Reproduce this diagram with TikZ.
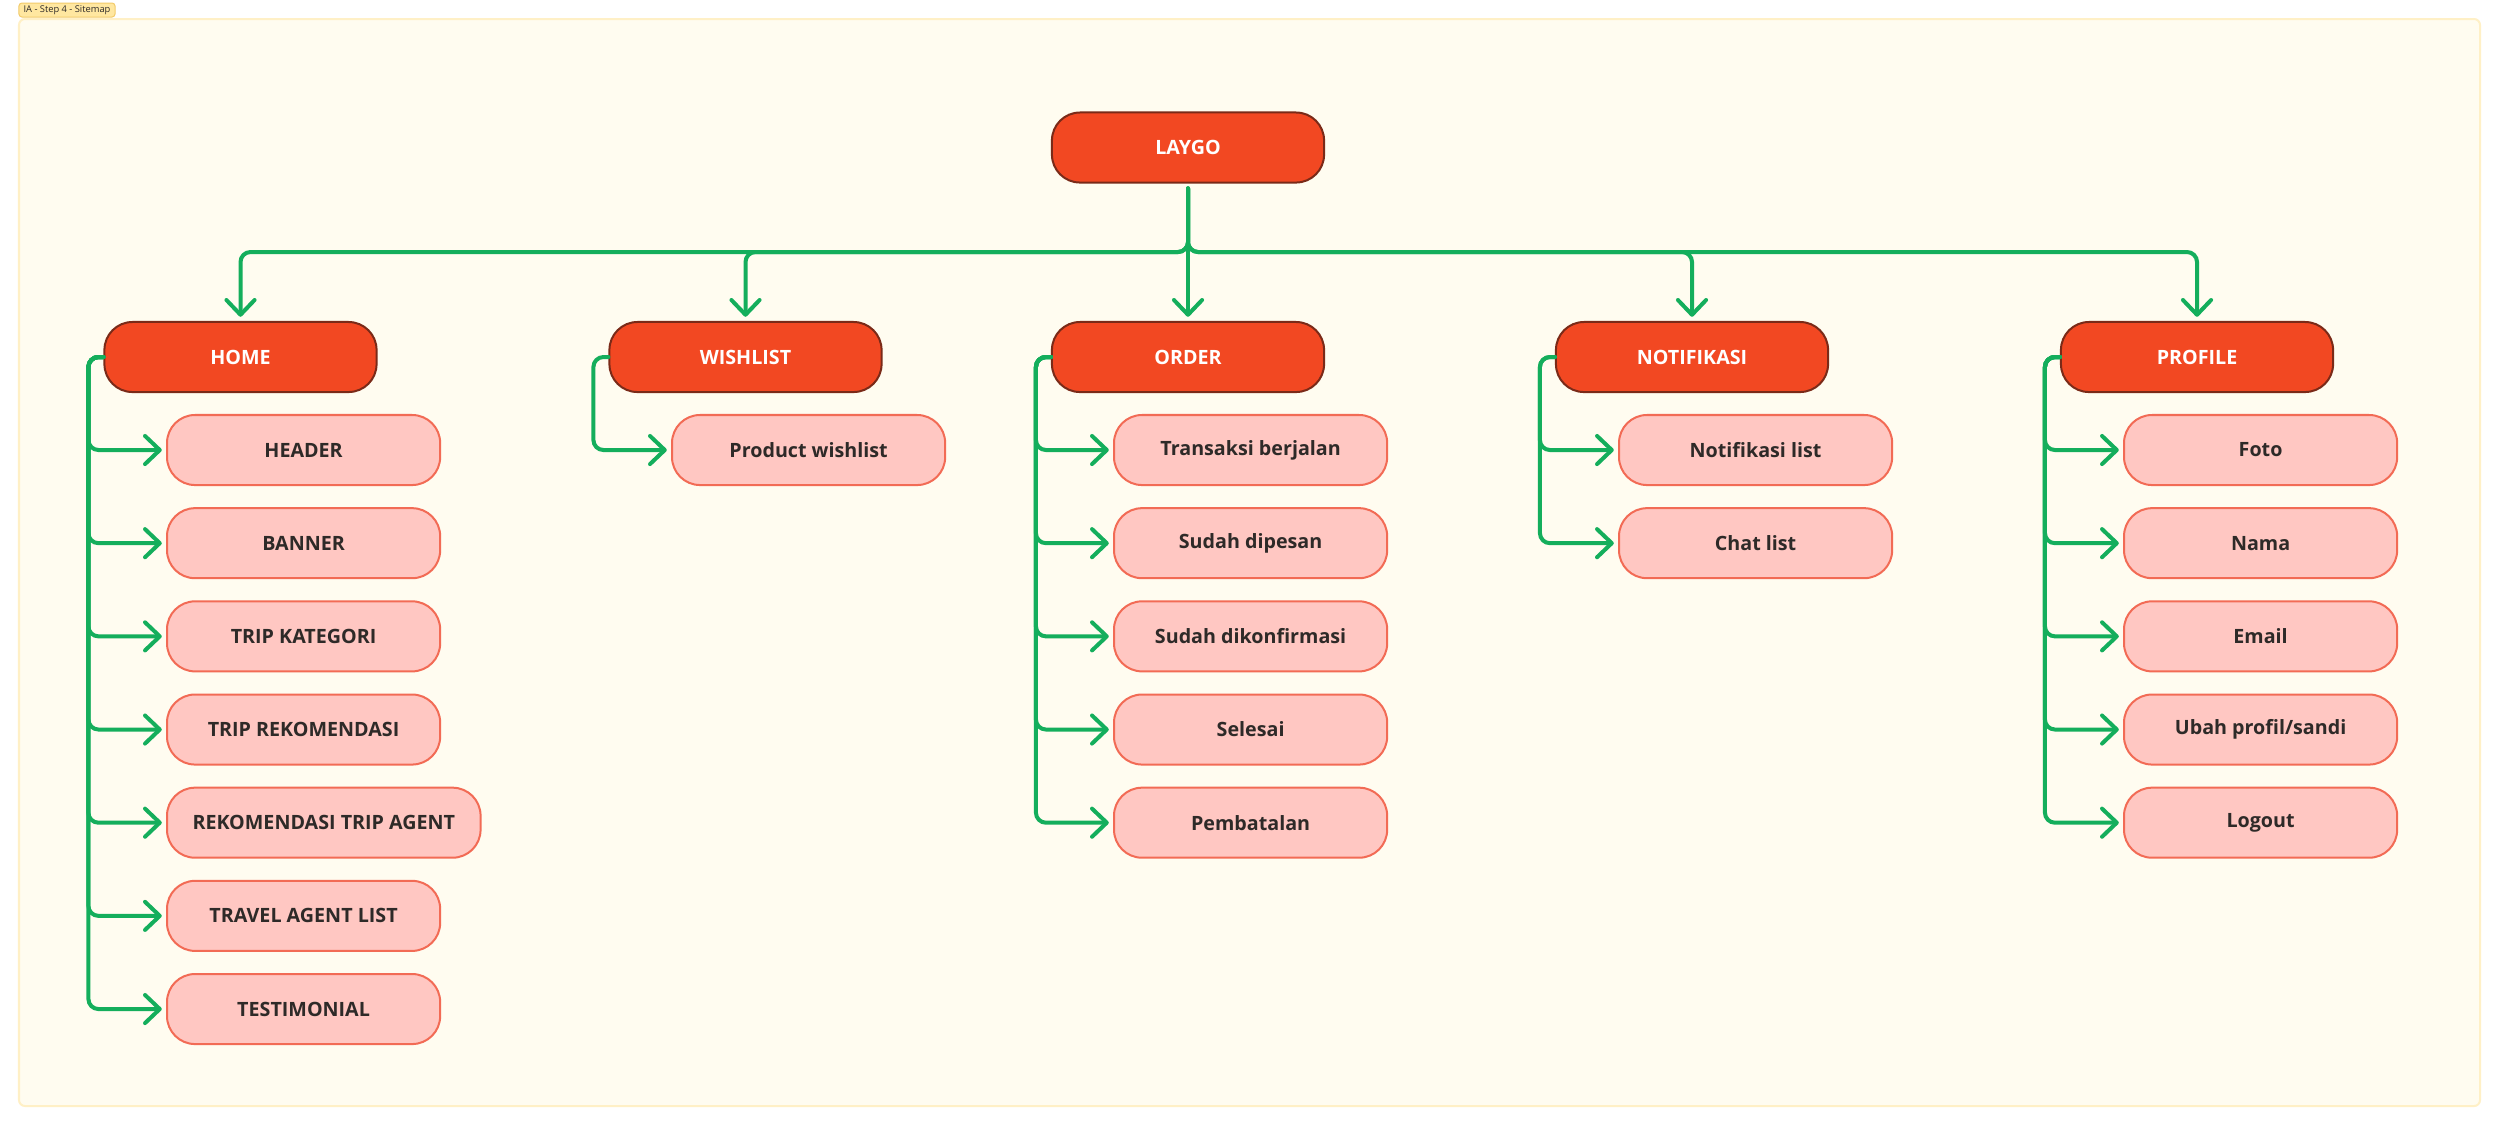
\documentclass[tikz,border=0pt]{standalone}
\usepackage{fontspec}
\setmainfont{Open Sans}
\usetikzlibrary{arrows.meta}

\definecolor{boardfill}{HTML}{FFFCF0}
\definecolor{boardline}{HTML}{FFF0C6}
\definecolor{tagfill}{HTML}{FFE7A0}
\definecolor{tagline}{HTML}{F2CB6A}
\definecolor{menufill}{HTML}{F24822}
\definecolor{menuline}{HTML}{7A2A18}
\definecolor{itemfill}{HTML}{FFC7C2}
\definecolor{itemline}{HTML}{F26B55}
\definecolor{itemtext}{HTML}{2E2A28}
\definecolor{sitegreen}{HTML}{14AE5C}

\begin{document}
\begin{tikzpicture}[x=0.01cm, y=-0.01cm]
    \tikzset{menu/.style={draw=menuline, fill=menufill, line width=0.02cm,
            rounded corners=0.28cm, minimum width=2.72cm, minimum height=0.70cm,
            text=white, font=\fontsize{5.6pt}{6.7pt}\selectfont\bfseries},
        item/.style={draw=itemline, fill=itemfill, line width=0.02cm,
            rounded corners=0.28cm, minimum width=2.73cm, minimum height=0.70cm,
            inner xsep=0.255cm, anchor=west, text=itemtext,
            font=\fontsize{5.6pt}{6.7pt}\selectfont\bfseries},
        link/.style={draw=sitegreen, line width=0.04cm, rounded corners=0.1cm,
            line cap=round, shorten >=1.2pt,
            -{Straight Barb[round, length=4.2pt, width=8pt]}}
    }
    \useasboundingbox (0,0) rectangle (2500,1126);
    \fill[white] (0,0) rectangle (2500,1126);
    \draw[draw=boardline, fill=boardfill, line width=0.02cm, rounded corners=0.06cm]
        (19,19) rectangle (2480,1106);
    \node[draw=tagline, fill=tagfill, line width=0.01cm, rounded corners=0.03cm,
        minimum width=0.96cm, minimum height=0.14cm, inner sep=0pt, text=itemtext,
        font=\fontsize{2.65pt}{3.2pt}\selectfont] (tag) at (67,10) {IA - Step 4 - Sitemap};

    \node[menu] (LAYGO) at (1188,147.5) {LAYGO};
    % first level
    \foreach \name/\x/\label in {H/240.5/HOME, W/745.5/WISHLIST, O/1188/ORDER,
        N/1692/NOTIFIKASI, P/2197/PROFILE} {
        \node[menu] (\name) at (\x,357) {\label};
    }
    % bus from the root
    \coordinate (bus) at (1188,252);
    \draw[link, shorten <=1.4pt] (LAYGO.south) -- (O.north);
    \foreach \name in {H, W, N, P} {
        \draw[link, shorten <=1.4pt] (LAYGO.south) |- (bus -| \name.north)
            -- (\name.north);
    }
    % home items
    \foreach \i/\label in {1/HEADER, 2/BANNER, 3/TRIP KATEGORI, 4/TRIP REKOMENDASI,
        5/REKOMENDASI TRIP AGENT, 6/TRAVEL AGENT LIST, 7/TESTIMONIAL} {
        \node[item] (H\i) at (166,{450+93.17*(\i-1)}) {\label};
        \draw[link] (H.west) -- ++(-15,0) |- (H\i.west);
    }
    % wishlist items
    \node[item] (W1) at (671,450) {Product wishlist};
    \draw[link] (W.west) -- ++(-15,0) |- (W1.west);
    % order items
    \foreach \i/\label in {1/Transaksi berjalan, 2/Sudah dipesan,
        3/Sudah dikonfirmasi, 4/Selesai, 5/Pembatalan} {
        \node[item] (O\i) at (1113,{450+93.17*(\i-1)}) {\label};
        \draw[link] (O.west) -- ++(-15,0) |- (O\i.west);
    }
    % notifikasi items
    \foreach \i/\label in {1/Notifikasi list, 2/Chat list} {
        \node[item] (N\i) at (1618,{450+93.17*(\i-1)}) {\label};
        \draw[link] (N.west) -- ++(-15,0) |- (N\i.west);
    }
    % profile items
    \foreach \i/\label in {1/Foto, 2/Nama, 3/Email, 4/{Ubah profil/sandi}, 5/Logout} {
        \node[item] (P\i) at (2123,{450+93.17*(\i-1)}) {\label};
        \draw[link] (P.west) -- ++(-15,0) |- (P\i.west);
    }
\end{tikzpicture}
\end{document}
